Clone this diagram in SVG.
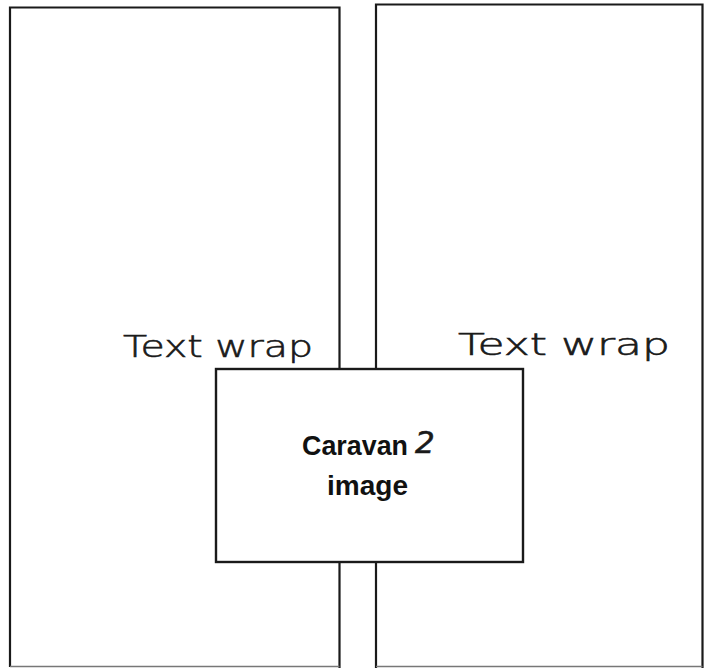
<svg xmlns="http://www.w3.org/2000/svg" width="704" height="668" viewBox="0 0 704 668">
<style>
.frame{fill:none;stroke:#1a1a1a;stroke-width:2.2}
.box{fill:#fff;stroke:#1a1a1a;stroke-width:2.4}
.hand{font-family:"DejaVu Sans","Liberation Sans",sans-serif;font-weight:200;font-size:30px;fill:#1a1a1a;stroke:#1a1a1a;stroke-width:0.6}
.bold{font-family:"Liberation Sans",sans-serif;font-weight:bold;font-size:27px;fill:#111}
</style>
<rect width="704" height="668" fill="#fff"/>
<g id="left-column">
<path class="frame" d="M10,667 V7.5 H339.5 V668"/>
<line x1="10" y1="666.5" x2="339.5" y2="666.5" stroke="#777" stroke-width="1.5"/>
</g>
<g id="right-column">
<path class="frame" d="M376,668 V4.5 H702.5 V668"/>
<line x1="376" y1="666.5" x2="702.5" y2="666.5" stroke="#777" stroke-width="1.5"/>
</g>
<g id="label-left">
<text class="hand" x="123" y="357" textLength="190" lengthAdjust="spacingAndGlyphs">Text wrap</text>
</g>
<g id="label-right">
<text class="hand" x="458" y="355" textLength="212" lengthAdjust="spacingAndGlyphs">Text  wrap</text>
</g>
<g id="caravan-image">
<rect class="box" x="216" y="369" width="307" height="193"/>
<text class="bold" x="302" y="455" textLength="106" lengthAdjust="spacingAndGlyphs">Caravan</text>
<text x="415" y="453" font-family="DejaVu Sans, sans-serif" font-weight="200" font-style="italic" font-size="31" fill="#1a1a1a" stroke="#1a1a1a" stroke-width="0.6">2</text>
<text class="bold" x="327" y="495" textLength="81" lengthAdjust="spacingAndGlyphs">image</text>
</g>
</svg>
